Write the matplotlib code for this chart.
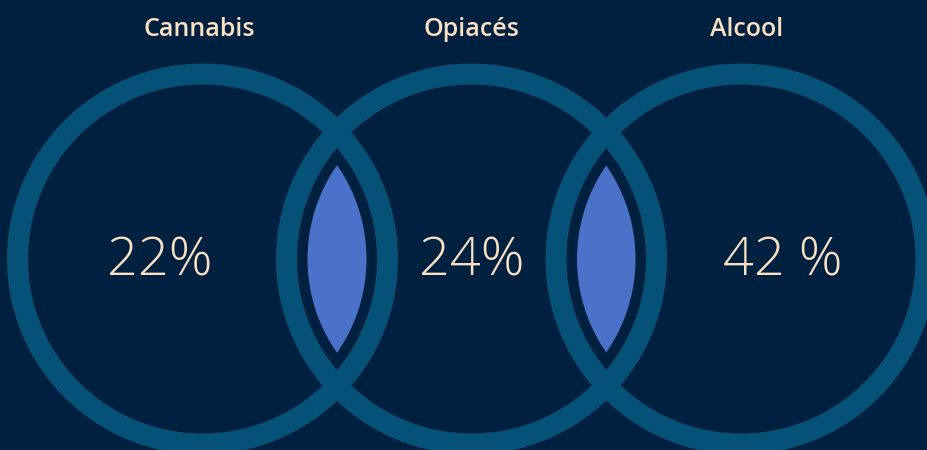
import matplotlib
matplotlib.use("Agg")
import matplotlib.pyplot as plt
from matplotlib.patches import Wedge, Circle

bg_color = "#00203f"
ring_color = "#055177"
lens_color = "#4a72c9"
text_color = "#fbe1c3"

# substances and their shares
categories = ["Cannabis", "Opiacés", "Alcool"]
shares = ["22%", "24%", "42 %"]

# ring geometry, in pixels
centers_x = [202.5, 471.5, 741]
center_y = 259
r_outer = 195.5
r_inner = 174.5
r_lens = 164

label_x = [199.5, 471, 747]
share_x = [160, 472, 783]

fig = plt.figure(figsize=(9.27, 4.5), dpi=100)
fig.set_facecolor(bg_color)
ax = fig.add_axes([0, 0, 1, 1])
ax.set_facecolor(bg_color)
ax.set_xlim(0, 927)
ax.set_ylim(450, 0)
ax.set_aspect("equal")
ax.axis("off")

for cx in centers_x:
    ax.add_patch(Wedge((cx, center_y), r_outer, 0, 360, width=r_outer - r_inner,
                       facecolor=ring_color, edgecolor="none"))

# overlap lenses between neighbouring circles
for a, b in zip(centers_x[:-1], centers_x[1:]):
    lens = Circle((a, center_y), r_lens, facecolor=lens_color, edgecolor="none")
    clip = Circle((b, center_y), r_lens, transform=ax.transData)
    ax.add_patch(lens)
    lens.set_clip_path(clip)

for x, name in zip(label_x, categories):
    ax.text(x, 29, name, color=text_color, fontsize=18, fontweight="semibold",
            family=["Open Sans", "DejaVu Sans"], ha="center", va="center")

for x, s in zip(share_x, shares):
    ax.text(x, 262, s, color=text_color, fontsize=39, fontweight="light",
            family=["Open Sans", "DejaVu Sans"], ha="center", va="center")

fig.savefig("out.png", dpi=100, facecolor=bg_color)
